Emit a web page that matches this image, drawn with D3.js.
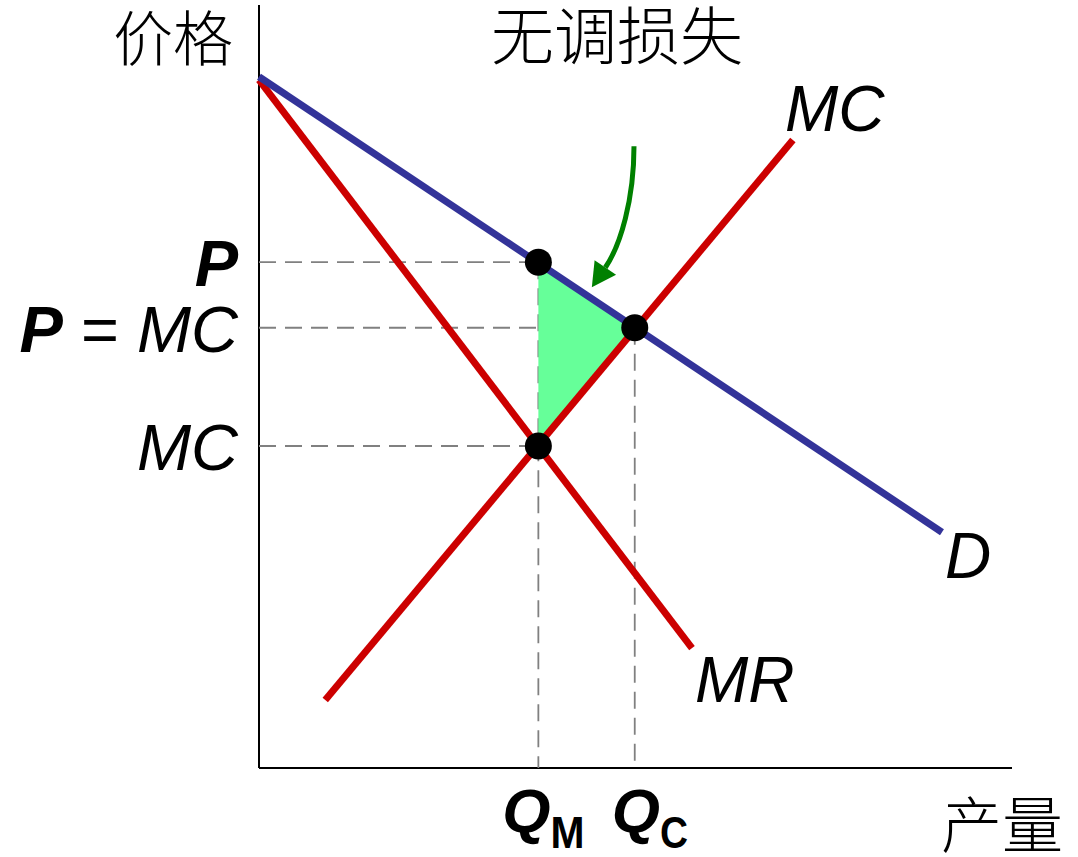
<!DOCTYPE html>
<html lang="zh">
<head>
<meta charset="UTF-8">
<script src="https://d3js.org/d3.v7.min.js"></script>
<title>无调损失</title>
<style>
  html, body { margin: 0; padding: 0; background: #fff; }
  svg text { font-family: "Liberation Sans", Arial, sans-serif; fill: #000; }
  .cjk { font-family: "Noto Sans CJK SC", sans-serif; font-weight: 300; }
</style>
</head>
<body>
<div id="chart"></div>
<script>
// curves as endpoints in (quantity, price) units, both 0..100
const demand = [[0, 90.6], [90.7, 30.9]];
const marginalRevenue = [[0, 90.2], [57.5, 15.7]];
const marginalCost = [[8.8, 8.9], [70.9, 82.3]];

// key quantities / prices
const qM = 37.1, qC = 49.9;
const pMonopoly = 66.3, pCompetitive = 57.7, mcAtQM = 42.2;
const dots = [[qM, pMonopoly], [qC, pCompetitive], [qM, mcAtQM]];
const deadweight = [[qM, pMonopoly], [qC, pCompetitive], [qM, mcAtQM]];

// arrow pointing at the deadweight loss triangle (start, two controls, tip)
const arrowPath = [[49.8, 81.5], [49.8, 74.5], [48.0, 68.5], [44.2, 63.0]];

const priceLabels = [
  { p: pMonopoly, parts: [["P", "bold"]] },
  { p: pCompetitive, parts: [["P", "bold"], [" = ", "normal"], ["MC", "italic"]] },
  { p: mcAtQM, parts: [["MC", "italic"]] }
];
const qtyLabels = [{ q: qM, sub: "M" }, { q: qC, sub: "C" }];

const width = 1078, height = 857;
const x = d3.scaleLinear().domain([0, 100]).range([259, 1012]);
const y = d3.scaleLinear().domain([0, 100]).range([768, 5]);

const svg = d3.select("#chart").append("svg")
  .attr("width", width).attr("height", height);

// axes (plain lines, no ticks)
svg.append("line").attr("x1", x(0)).attr("x2", x(0)).attr("y1", y(100)).attr("y2", y(0))
  .attr("stroke", "#000").attr("stroke-width", 2);
svg.append("line").attr("x1", x(0)).attr("x2", x(100)).attr("y1", y(0)).attr("y2", y(0))
  .attr("stroke", "#000").attr("stroke-width", 2);

// dashed guides
const guides = svg.append("g").attr("stroke", "#808080").attr("stroke-width", 1.8)
  .attr("stroke-dasharray", "17,9");
[[qM, pMonopoly], [qC, pCompetitive], [qM, mcAtQM]].forEach(([q, p]) => {
  guides.append("line").attr("x1", x(0)).attr("x2", x(q)).attr("y1", y(p)).attr("y2", y(p));
});
[[qM, pMonopoly], [qC, pCompetitive]].forEach(([q, p]) => {
  guides.append("line").attr("x1", x(q)).attr("x2", x(q)).attr("y1", y(p)).attr("y2", y(0));
});

// deadweight loss triangle
svg.append("path")
  .attr("d", d3.line().x(d => x(d[0])).y(d => y(d[1]))(deadweight) + "Z")
  .attr("fill", "#66ff99");

const line = d3.line().x(d => x(d[0])).y(d => y(d[1]));
const curves = [
  { data: marginalRevenue, color: "#cc0000" },
  { data: marginalCost, color: "#cc0000" },
  { data: demand, color: "#333399" }
];
svg.selectAll(".curve").data(curves).enter().append("path")
  .attr("class", "curve")
  .attr("d", d => line(d.data))
  .attr("stroke", d => d.color)
  .attr("stroke-width", 7)
  .attr("fill", "none");

// green arrow
const ap = arrowPath.map(d => [x(d[0]), y(d[1])]);
const tip = ap[3], c2 = ap[2];
const ang = Math.atan2(tip[1] - c2[1], tip[0] - c2[0]);
const headLen = 24, headHalf = 13;
const base = [tip[0] - headLen * Math.cos(ang), tip[1] - headLen * Math.sin(ang)];
svg.append("path")
  .attr("d", `M${ap[0]}C${ap[1]} ${ap[2]} ${base}`)
  .attr("stroke", "#008000").attr("stroke-width", 5).attr("fill", "none");
svg.append("path")
  .attr("d", `M${tip}L${base[0] + headHalf * Math.sin(ang)},${base[1] - headHalf * Math.cos(ang)}` +
             `L${base[0] - headHalf * Math.sin(ang)},${base[1] + headHalf * Math.cos(ang)}Z`)
  .attr("fill", "#008000");

// equilibrium dots
svg.selectAll(".dot").data(dots).enter().append("circle")
  .attr("cx", d => x(d[0])).attr("cy", d => y(d[1])).attr("r", 13.5)
  .attr("fill", "#000");

// curve labels
const end = arr => arr[arr.length - 1];
svg.append("text").attr("x", x(end(marginalCost)[0]) - 8).attr("y", 131)
  .style("font-size", "64px").style("font-style", "italic").text("MC");
svg.append("text").attr("x", x(end(demand)[0]) + 3).attr("y", 578)
  .style("font-size", "64px").style("font-style", "italic").text("D");
svg.append("text").attr("x", x(end(marginalRevenue)[0]) + 3).attr("y", 702)
  .style("font-size", "64px").style("font-style", "italic").text("MR");

// price labels
priceLabels.forEach(lab => {
  const t = svg.append("text").attr("x", 238).attr("y", y(lab.p) + 24)
    .attr("text-anchor", "end").style("font-size", "65px");
  lab.parts.forEach(([s, st]) => {
    const ts = t.append("tspan").text(s);
    if (st === "bold") ts.style("font-weight", "bold").style("font-style", "italic");
    if (st === "italic") ts.style("font-style", "italic");
  });
});

// quantity labels (the Q of Q_C sits closer to its guide than Q_M)
const qShift = { M: -36, C: -23 };
const subWidth = { M: 34, C: 28 };
qtyLabels.forEach(lab => {
  const t = svg.append("text").attr("x", x(lab.q) + qShift[lab.sub]).attr("y", 832)
    .style("font-size", "62px").style("font-weight", "bold");
  t.append("tspan").style("font-style", "italic").text("Q");
  t.append("tspan").attr("dy", 16).style("font-size", "44px")
    .attr("textLength", subWidth[lab.sub]).attr("lengthAdjust", "spacingAndGlyphs").text(lab.sub);
});

// axis titles
svg.append("text").attr("class", "cjk").attr("x", 233).attr("y", 61)
  .attr("text-anchor", "end").style("font-size", "60px").text("价格");
svg.append("text").attr("class", "cjk").attr("x", 617).attr("y", 59)
  .attr("text-anchor", "middle").style("font-size", "63px").text("无调损失");
svg.append("text").attr("class", "cjk").attr("x", 1063).attr("y", 848)
  .attr("text-anchor", "end").style("font-size", "61px").text("产量");
</script>
</body>
</html>
